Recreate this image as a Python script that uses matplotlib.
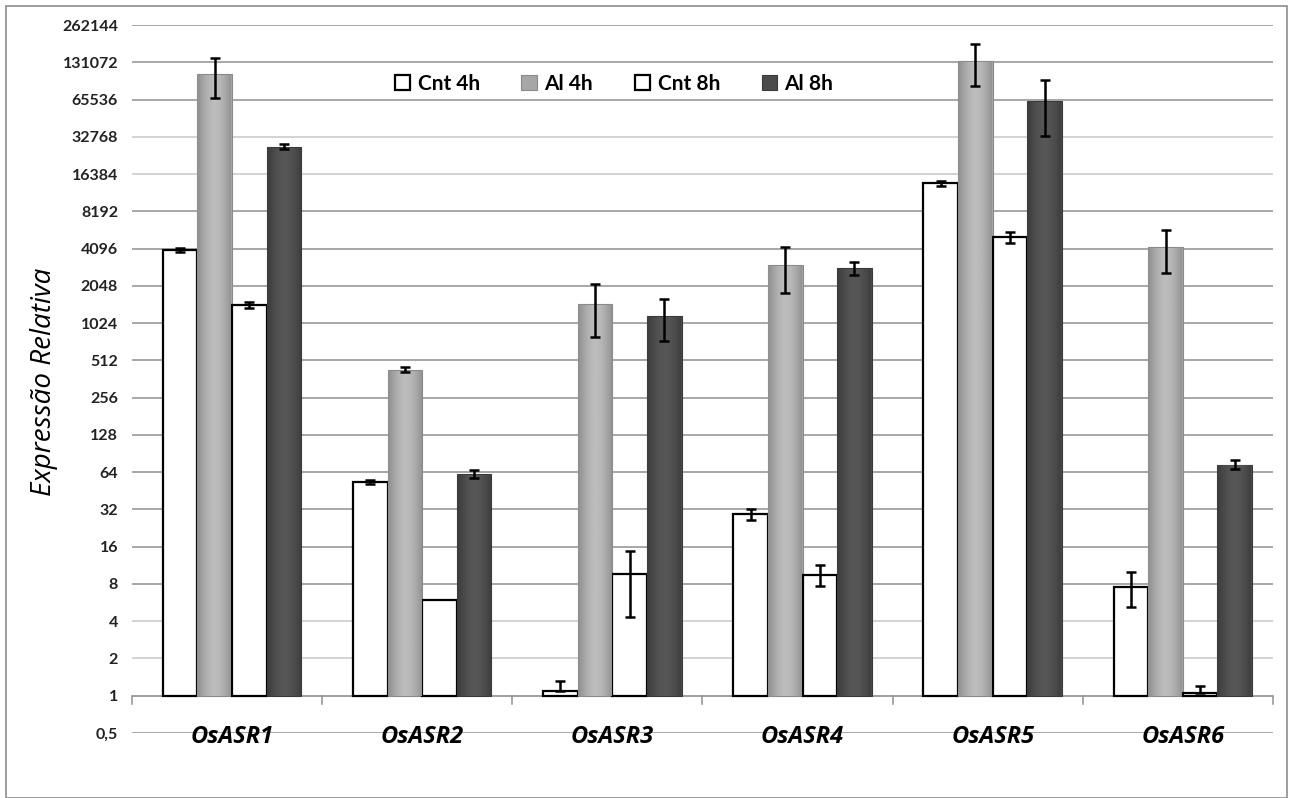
import numpy as np
import matplotlib.pyplot as plt
from matplotlib.ticker import FixedLocator, NullLocator

genes = ['OsASR1', 'OsASR2', 'OsASR3', 'OsASR4', 'OsASR5', 'OsASR6']
series = ['Cnt 4h', 'Al 4h', 'Cnt 8h', 'Al 8h']

cnt4 = [4000, 53.4, 1.1, 29.3, 13800, 7.6]
al4 = [105000, 429, 1450, 3000, 134000, 4200]
cnt8 = [1436, 5.96, 9.6, 9.5, 5080, 1.06]
al8 = [27200, 62, 1170, 2860, 64000, 73.5]

cnt4_err = [150, 2.0, 0.22, 3.0, 600, 2.4]
al4_err = [37000, 20, 660, 1200, 50000, 1620]
cnt8_err = [80, 0.0, 5.3, 1.8, 500, 0.13]
al8_err = [1200, 5, 440, 350, 30500, 6]

values = [cnt4, al4, cnt8, al8]
errors = [cnt4_err, al4_err, cnt8_err, al8_err]

yticks = [0.5] + [2 ** k for k in range(0, 19)]
ytick_labels = ['0,5'] + [str(2 ** k) for k in range(0, 19)]

face = ['white', '#a6a6a6', 'white', '#4b4b4b']
edge = ['black', '#8a8a8a', 'black', '#3a3a3a']
grad = [None, ('#8f8f8f', '#bdbdbd'), None, ('#3c3c3c', '#575757')]

fig = plt.figure(figsize=(12.93, 7.98), dpi=100)
fig.patches.append(plt.Rectangle((0.005, 0.0), 0.99, 0.993, transform=fig.transFigure,
                                 fill=False, edgecolor='#8c8c8c', lw=1.2))
ax = fig.add_axes([132 / 1293, 1 - 733 / 798, (1273 - 132) / 1293, (733 - 25) / 798])
ax.set_yscale('log', base=2)
ax.set_ylim(0.5, 262144)
ax.set_xlim(-0.5, len(genes) - 0.5)

# gridlines
faint = {2, 4, 16384, 32768}
for v in yticks:
    if v == 1:
        continue
    c = '#c8c8c8' if v in faint else '#8f8f8f'
    ax.axhline(v, color=c, lw=1.1, zorder=0)
ax.axhline(1, color='#8f8f8f', lw=1.2, zorder=1)
# category boundary ticks below baseline
for b in np.arange(-0.5, len(genes), 1.0):
    ax.plot([b, b], [1, 0.86], color='#8f8f8f', lw=1.1, clip_on=False, zorder=1)

x = np.arange(len(genes))
w = 0.182
offsets = (np.arange(4) - 1.5) * w + 0.026

for i in range(4):
    heights = np.array(values[i]) - 1
    bars = ax.bar(x + offsets[i], heights, w, bottom=1, color=face[i],
                  edgecolor=edge[i], lw=1.6 if face[i] == 'white' else 0.8,
                  zorder=2, label=series[i])
    if grad[i] is not None:
        c0 = np.array(plt.matplotlib.colors.to_rgb(grad[i][0]))
        c1 = np.array(plt.matplotlib.colors.to_rgb(grad[i][1]))
        t = np.linspace(0, 1, 64)
        prof = 1 - np.abs(2 * t - 1) ** 1.6
        img = c0[None, :] + (c1 - c0)[None, :] * prof[:, None]
        img = img[None, :, :]
        for b in bars:
            x0 = b.get_x()
            y0 = b.get_y()
            y1 = y0 + b.get_height()
            im = ax.imshow(img, extent=[x0, x0 + w, y0, y1], aspect='auto',
                           zorder=2.1, interpolation='bilinear')
            im.set_clip_path(b)
    # error bars (upper-only where value is near 1)
    err = np.array(errors[i])
    lower = np.where(np.array(values[i]) - err < 1, 0, err)
    mask = err > 0
    ax.errorbar((x + offsets[i])[mask], np.array(values[i])[mask],
                yerr=[lower[mask], err[mask]], fmt='none', ecolor='black',
                elinewidth=1.8, capsize=3.8, capthick=1.8, zorder=4)

ax.set_xlim(-0.5, len(genes) - 0.5)
ax.set_ylim(0.5, 262144)
ax.yaxis.set_major_locator(FixedLocator(yticks))
ax.yaxis.set_minor_locator(NullLocator())
ax.set_yticklabels(ytick_labels, fontfamily='Lato', fontweight='bold', fontsize=11.5,
                   color='#222222')
ax.tick_params(axis='y', length=0, pad=10)
ax.set_xticks(x + 0.026)
ax.set_xticklabels(genes, fontfamily='Open Sans', fontweight='bold', fontstyle='italic',
                   fontsize=17)
ax.tick_params(axis='x', length=0, pad=-6)
for s in ax.spines.values():
    s.set_visible(False)
ax.set_facecolor('none')

fig.text(44 / 1293, 1 - 382 / 798, 'Expressão Relativa', rotation=90, ha='center',
         va='center', fontfamily='Open Sans', fontstyle='italic', fontsize=20)

leg = ax.legend(loc='upper center', bbox_to_anchor=(0.4225, 0.943), ncol=4, frameon=False,
                prop={'family': 'Lato', 'weight': 'bold', 'size': 15},
                handlelength=0.75, handleheight=0.75, handletextpad=0.35,
                columnspacing=2.0, borderaxespad=0)

fig.savefig('out.png', dpi=100)
